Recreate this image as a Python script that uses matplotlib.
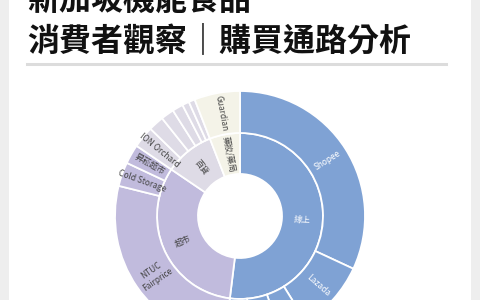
import numpy as np
import matplotlib
matplotlib.use("Agg")
import matplotlib.pyplot as plt
from matplotlib.patches import Rectangle
from matplotlib.lines import Line2D

plt.rcParams['font.family'] = ['Noto Sans CJK TC', 'DejaVu Sans']

title_line1 = "新加坡機能食品"
title_line2 = "消費者觀察｜購買通路分析"

# inner ring categories and their children (outer ring), values in %
parents = ['線上', '超市', '百貨', '藥妝/藥局']
online_names = ['Shopee', 'Lazada', '', '', '']
online_vals = [31.9, 9.2, 3.6, 3.9, 3.3]
super_names = ['NTUC\nFairprice', 'Cold Storage', '昇菘超市']
super_vals = [26.9, 3.1, 2.5]
dept_names = ['ION Orchard', '', '', '', '', '']
dept_vals = [2.8, 2.0, 1.7, 1.4, 0.9, 0.8]
pharm_names = ['Guardian']
pharm_vals = [5.9]

children_names = [online_names, super_names, dept_names, pharm_names]
children_vals = [online_vals, super_vals, dept_vals, pharm_vals]
colors = ['#7fa2d4', '#c1bbdd', '#dedbe6', '#f4f3e8']
text_colors = ['white', '#444444', '#444444', '#444444']

W, H = 480, 300
fig = plt.figure(figsize=(4.8, 3.0), dpi=100)
fig.patch.set_facecolor('#eeeeee')
card = Rectangle((9 / W, 0), (471 - 9) / W, 1, transform=fig.transFigure,
                 facecolor='white', edgecolor='none', zorder=-5)
fig.add_artist(card)
fig.text(27 / W, 1 - 2 / H, title_line1, fontsize=23, fontweight='bold', color='#111111',
         ha='left', va='center')
fig.text(27 / W, 1 - 41 / H, title_line2, fontsize=23, fontweight='bold', color='#111111',
         ha='left', va='center')
fig.add_artist(Line2D([27 / W, 446 / W], [1 - 64 / H, 1 - 64 / H], transform=fig.transFigure,
                      color='#dcdcdc', linewidth=2.2))

cx, cy, R = 240, 216, 127
ax = fig.add_axes([(cx - R) / W, (H - cy - R) / H, 2 * R / W, 2 * R / H], projection='polar',
                  zorder=2)
ax.set_theta_zero_location('N')
ax.set_theta_direction(-1)
ax.set_ylim(0, R)
ax.axis('off')

r0, r1, r2 = 42, 83, 125
total = sum(sum(v) for v in children_vals)


def rot_for(tdeg):
    a = 90 - tdeg
    while a <= -90:
        a += 180
    while a > 90:
        a -= 180
    return a


start = 0.0
for p, names, vals, col, tc in zip(parents, children_names, children_vals, colors, text_colors):
    pv = sum(vals)
    w = pv / total * 2 * np.pi
    ax.bar(start, r1 - r0, width=w, bottom=r0, align='edge', color=col,
           edgecolor='white', linewidth=1.3)
    mid = start + w / 2
    ax.text(mid, (r0 + r1) / 2, p, rotation=rot_for(np.degrees(mid)), rotation_mode='anchor',
            ha='center', va='center', fontsize=6, color=tc)
    s = start
    for n, v in zip(names, vals):
        cw = v / total * 2 * np.pi
        ax.bar(s, r2 - r1, width=cw, bottom=r1, align='edge', color=col,
               edgecolor='white', linewidth=1.3)
        if n:
            m = s + cw / 2
            ax.text(m, (r1 + r2) / 2, n, rotation=rot_for(np.degrees(m)), rotation_mode='anchor',
                    ha='center', va='center', fontsize=6, color=tc, linespacing=1.3)
        s += cw
    start += w

fig.savefig('out.png', dpi=100, facecolor=fig.get_facecolor())
